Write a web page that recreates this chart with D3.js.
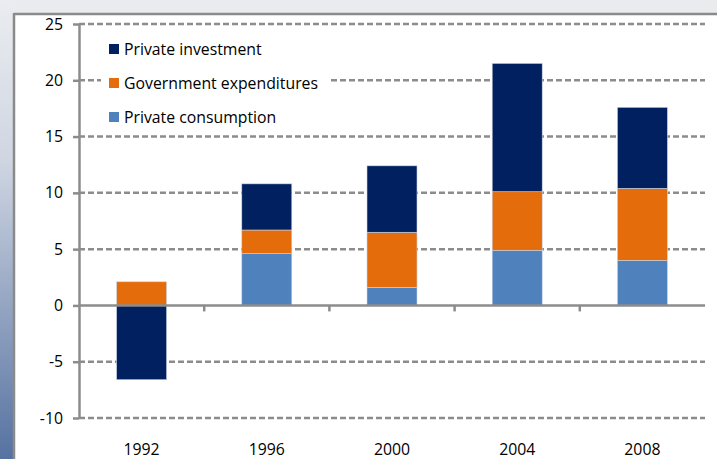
<!DOCTYPE html>
<html><head><meta charset="utf-8">
<script src="https://cdn.jsdelivr.net/npm/d3@7"></script>
<style>html,body{margin:0;padding:0;overflow:hidden;background:#fff}</style>
</head><body>
<svg id="c" width="717" height="459"></svg>
<script>
const years = ["1992","1996","2000","2004","2008"];
const privateConsumption = [0, 4.6, 1.6, 4.9, 4.0];
const governmentExpenditures = [2.1, 2.1, 4.9, 5.2, 6.4];
const privateInvestment = [-6.6, 4.1, 5.9, 11.4, 7.2];
const seriesNames = ["Private investment","Government expenditures","Private consumption"];
const yTicks = [25,20,15,10,5,0,-5,-10];

const colors = {"Private investment":"#002060","Government expenditures":"#e46c0a","Private consumption":"#4f81bd"};
const svg = d3.select("#c");
const W = 717, H = 459;
const font = "'Open Sans', sans-serif";
const fs = 15.8;

// background frame
const defs = svg.append("defs");
const g1 = defs.append("linearGradient").attr("id","lg").attr("x1",0).attr("y1",0).attr("x2",0).attr("y2",1);
g1.append("stop").attr("offset","0%").attr("stop-color","#eaecf0");
g1.append("stop").attr("offset","35%").attr("stop-color","#cfd6e2");
g1.append("stop").attr("offset","100%").attr("stop-color","#5672a1");
svg.append("rect").attr("x",0).attr("y",0).attr("width",W).attr("height",14).attr("fill","#e9ebef");
svg.append("rect").attr("x",0).attr("y",0).attr("width",14).attr("height",H).attr("fill","url(#lg)");
svg.append("rect").attr("x",14).attr("y",14).attr("width",W).attr("height",H).attr("fill","#fff");
svg.append("line").attr("x1",14).attr("x2",W).attr("y1",14).attr("y2",14).attr("stroke","#8a8a8a").attr("stroke-width",2.5);
svg.append("line").attr("x1",14).attr("x2",14).attr("y1",13).attr("y2",H).attr("stroke","#8a8a8a").attr("stroke-width",2.5);

const x0 = 79, x1 = 705;
const y = d3.scaleLinear().domain([-10,25]).range([418,24]);
const x = d3.scaleBand().domain(years).range([x0,x1]).paddingInner(0).paddingOuter(0);
const barW = 50;

// gridlines
svg.append("g").selectAll("line").data(yTicks.filter(d=>d!==0)).join("line")
  .attr("x1",x0).attr("x2",x1).attr("y1",d=>y(d)).attr("y2",d=>y(d))
  .attr("stroke","#8c8c8c").attr("stroke-width",2.5).attr("stroke-dasharray","6,3");

// stacked bars
const rows = years.map((yr,i)=>({year:yr,
  "Private consumption":privateConsumption[i],
  "Government expenditures":governmentExpenditures[i],
  "Private investment":privateInvestment[i]}));
const stack = d3.stack().keys(["Private consumption","Government expenditures","Private investment"])
  .offset(d3.stackOffsetDiverging);
const layers = stack(rows);
const bars = svg.append("g");
layers.forEach(layer=>{
  bars.append("g").selectAll("rect").data(layer).join("rect")
    .attr("x",d=>x(d.data.year)+x.bandwidth()/2-barW/2)
    .attr("width",barW)
    .attr("y",d=>y(Math.max(d[0],d[1])))
    .attr("height",d=>Math.abs(y(d[0])-y(d[1])))
    .attr("fill",colors[layer.key])
    .attr("stroke","#c9d4e6").attr("stroke-width",0.6);
});

// y axis
const yAxis = svg.append("g").attr("transform",`translate(${x0},0)`)
  .call(d3.axisLeft(y).tickValues(yTicks).tickFormat(d=>String(d)).tickSize(6).tickSizeOuter(0).tickPadding(10));
yAxis.select(".domain").attr("stroke","#8c8c8c").attr("stroke-width",2.5);
yAxis.selectAll(".tick line").attr("stroke","#8c8c8c").attr("stroke-width",2.5);
yAxis.selectAll("text").attr("font-family",font).attr("font-size",fs).attr("fill","#000");

// x axis at zero
const xAxisG = svg.append("g").attr("transform",`translate(0,${y(0)})`);
xAxisG.append("line").attr("x1",x0).attr("x2",x1).attr("stroke","#8c8c8c").attr("stroke-width",2.5);
xAxisG.selectAll(".bt").data(years.slice(1)).join("line").attr("class","bt")
  .attr("x1",d=>x(d)).attr("x2",d=>x(d)).attr("y1",0).attr("y2",6)
  .attr("stroke","#8c8c8c").attr("stroke-width",2.5);
svg.append("g").selectAll("text").data(years).join("text")
  .attr("x",d=>x(d)+x.bandwidth()/2).attr("y",455)
  .attr("text-anchor","middle").attr("font-family",font).attr("font-size",fs).attr("fill","#000")
  .text(d=>d);

// legend
const lg = svg.append("g");
lg.append("rect").attr("x",101).attr("y",32).attr("width",228).attr("height",98).attr("fill","#fff");
const ly = [49,83,117];
seriesNames.forEach((s,i)=>{
  lg.append("rect").attr("x",109).attr("y",ly[i]-5).attr("width",10).attr("height",10).attr("fill",colors[s]);
  lg.append("text").attr("x",124).attr("y",ly[i]).attr("dy","0.35em")
    .attr("font-family",font).attr("font-size",fs).attr("fill","#000").text(s);
});
</script>
</body></html>
